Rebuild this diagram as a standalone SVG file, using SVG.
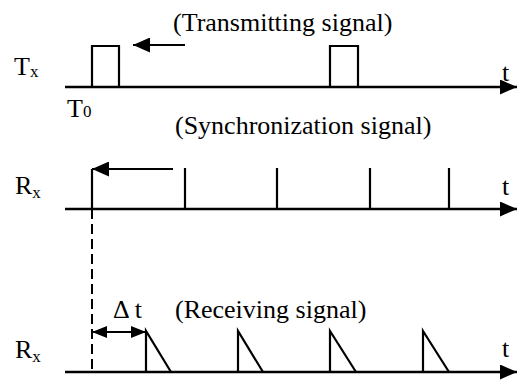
<svg xmlns="http://www.w3.org/2000/svg" width="519" height="381" viewBox="0 0 519 381">
<style>
text{font-family:'Liberation Serif','DejaVu Serif',serif;fill:#000}
.lbl{font-size:26px}
.sub{font-size:17px}
.w{fill:none;stroke:#000;stroke-width:2.2;stroke-linejoin:miter}
.ax{fill:none;stroke:#000;stroke-width:2.6}
.ar{fill:none;stroke:#000;stroke-width:2}
</style>
<defs>
<marker id="ah" viewBox="0 0 17 15" refX="17" refY="7.5" markerWidth="17" markerHeight="15" markerUnits="userSpaceOnUse" orient="auto">
<path d="M0,0 L17,7.5 L0,15 Z" fill="#000"/>
</marker>
<marker id="ahs" viewBox="0 0 15 12" refX="15" refY="6" markerWidth="15" markerHeight="12" markerUnits="userSpaceOnUse" orient="auto-start-reverse">
<path d="M0,0 L15,6 L0,12 Z" fill="#000"/>
</marker>
</defs>

<g id="tx-row" font-family="Liberation Serif, DejaVu Serif, serif">
<text class="lbl" x="14" y="75">T<tspan class="sub" dy="2">x</tspan></text>
<text class="lbl" x="67" y="117">T<tspan class="sub">0</tspan></text>
<text class="lbl" x="173" y="31">(Transmitting signal)</text>
<text class="lbl" x="502" y="81">t</text>
<path class="w" d="M92,87 V46 H119 V87 M330,87 V46 H358 V87"/>
</g>

<g id="sync-row" font-family="Liberation Serif, DejaVu Serif, serif">
<text class="lbl" x="15" y="194">R<tspan class="sub" dy="4">x</tspan></text>
<text class="lbl" x="175" y="134">(Synchronization signal)</text>
<text class="lbl" x="502" y="195">t</text>
<path class="w" d="M92,209 V169 M185,209 V168 M277,209 V168 M370,209 V168 M449,209 V168"/>
</g>

<g id="rx-row" font-family="Liberation Serif, DejaVu Serif, serif">
<text class="lbl" x="15" y="358">R<tspan class="sub" dy="4">x</tspan></text>
<text class="lbl" x="175" y="318">(Receiving signal)</text>
<text class="lbl" x="502" y="357">t</text>
<text class="lbl" x="113" y="318">Δ t</text>
<path class="w" d="M146,372 V331 L171,372 M238,372 V331 L263,372 M330,372 V331 L356,372 M423,372 V331 L449,372"/>
</g>

<g id="connectors">
<line class="ax" x1="65" y1="87" x2="517" y2="87" marker-end="url(#ah)"/>
<line class="ax" x1="65" y1="209" x2="517" y2="209" marker-end="url(#ah)"/>
<line class="ax" x1="65" y1="372" x2="517" y2="372" marker-end="url(#ah)"/>
<line class="ar" x1="185" y1="45" x2="133" y2="45" marker-end="url(#ah)"/>
<line class="ar" x1="173" y1="169" x2="92" y2="169" marker-end="url(#ah)"/>
<line class="ar" x1="92" y1="332" x2="146" y2="332" marker-start="url(#ahs)" marker-end="url(#ahs)"/>
<line x1="92" y1="209" x2="92" y2="372" stroke="#000" stroke-width="2" stroke-dasharray="10,5"/>
</g>
</svg>
